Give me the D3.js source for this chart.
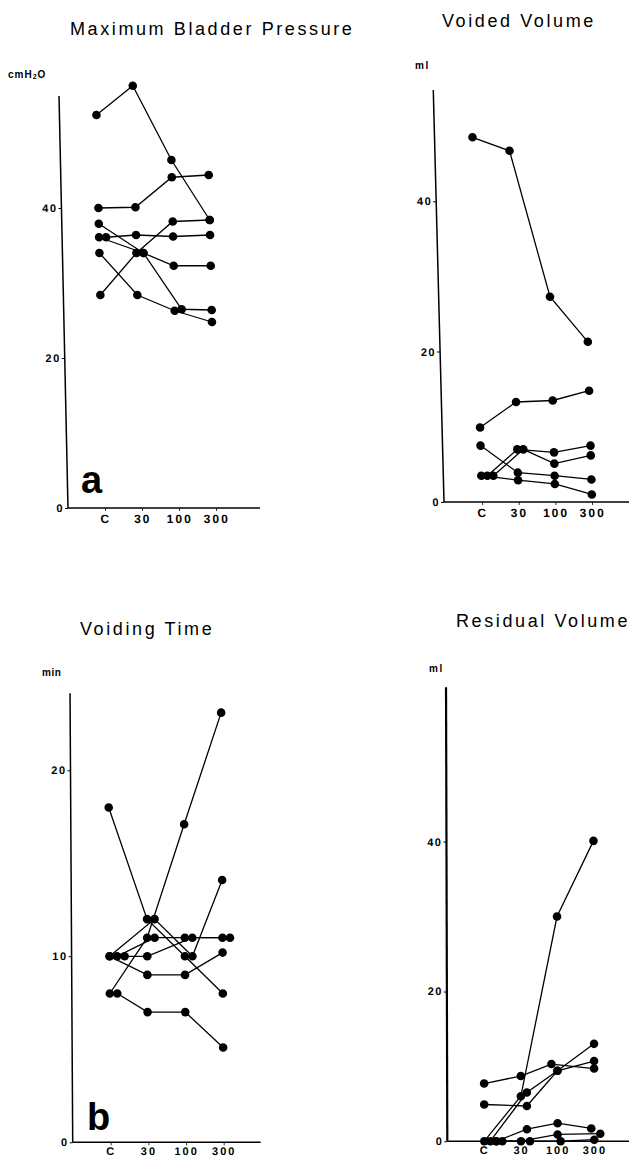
<!DOCTYPE html>
<html><head><meta charset="utf-8">
<script src="https://cdn.jsdelivr.net/npm/d3@7"></script>
<style>
body{margin:0;background:#fff;}
svg{display:block;font-family:"Liberation Sans",Arial,sans-serif;}
</style></head><body>
<svg id="c" width="629" height="1161"></svg>
<script>
const categories = ["C","30","100","300"];

// a: Maximum Bladder Pressure (cmH2O)
const pressureSeries = [
  [52.4,56.3,46.4,38.4],
  [40.0,40.1,44.1,44.4],
  [37.9,34.0,32.3,32.3],
  [36.1,36.4,36.2,36.4],
  [28.4,34.0,38.2,38.4],
  [36.1,34.0,26.5,26.4],
  [34.0,28.4,26.3,24.8]
];
const pressureDodge = [[0,0,0,0],[0,0,0,0],[0,1,0,0],[1,0,0,0],[0,0,0,0],[0,1,1,0],[0,0,0,0]];
const pressureTicks = [0,20,40];

// Voided Volume (ml)
const voidedSeries = [
  [48.5,46.7,27.3,21.3],
  [9.9,13.3,13.5,14.8],
  [7.5,3.9,3.5,3.0],
  [3.5,7.0,6.6,7.5],
  [3.5,7.0,5.1,6.2],
  [3.5,2.9,2.4,1.0]
];
const voidedDodge = [[0,0,0,0],[0,0,0,0],[0,0,0,0],[1,0,0,0],[2,1,0,0],[0,0,0,0]];
const voidedTicks = [0,20,40];

// b: Voiding Time (min)
const timeSeries = [
  [18,12,10,8],
  [10,12,10,14.1],
  [8,11,17.1,23.1],
  [10,11,11,11],
  [10,10,11,11],
  [10,9,9,10.2],
  [8,7,7,5.1]
];
const timeDodge = [[0,0,0,0],[0,1,1,0],[0,0,0,0],[1,1,0,0],[2,0,1,1],[0,0,0,0],[1,0,0,0]];
const timeTicks = [0,10,20];

// Residual Volume (ml)
const residualSeries = [
  [0,6.0,30.0,40.1],
  [7.7,8.7,10.3,9.7],
  [4.9,4.7,9.4,10.7],
  [0,6.5,9.4,13.0],
  [0,1.6,2.4,1.7],
  [0,0,0.9,1.0],
  [0,0,0,0.2]
];
const residualDodge = [[0,0,0,0],[0,0,-1,0],[0,1,0,0],[1,1,0,0],[2,1,0,-0.5],[3,0,0,1],[2,1.5,0.5,0]];
const residualTicks = [0,20,40];

const svg = d3.select("#c");

function panel(cfg){
  const g = svg.append("g")
    .attr("transform", `translate(${cfg.origin[0]},${cfg.origin[1]}) skewX(${cfg.skew})`);
  const y = d3.scaleLinear().domain([0, cfg.axisH / cfg.pxPerUnit]).range([0, -cfg.axisH]);
  const x = d3.scalePoint().domain(categories).range(cfg.xRange);

  g.append("line").attr("x1",0).attr("x2",0).attr("y1",0).attr("y2",-cfg.axisH)
    .attr("stroke","#000").attr("stroke-width",cfg.axisW || 1.5);
  g.append("line").attr("x1",0).attr("x2",cfg.axisLen).attr("y1",0).attr("y2",0)
    .attr("stroke","#000").attr("stroke-width",1.5);

  const ya = g.append("g").call(d3.axisLeft(y).tickValues(cfg.ticks).tickSize(3).tickPadding(1).tickFormat(d3.format("d")));
  ya.select(".domain").remove();
  ya.selectAll("text").attr("font-size",11).attr("font-weight","bold").attr("letter-spacing","1.5px")
    .attr("font-family","Liberation Sans, Arial, sans-serif").attr("fill","#000");
  ya.selectAll("line").attr("stroke","#000");

  const xa = g.append("g").call(d3.axisBottom(x).tickSize(3).tickPadding(cfg.xPad));
  xa.select(".domain").remove();
  xa.selectAll("text").attr("font-size",cfg.xFont || 12).attr("font-weight","bold").attr("letter-spacing","2px")
    .attr("font-family","Liberation Sans, Arial, sans-serif").attr("fill","#000");
  xa.selectAll("line").attr("stroke","#000").attr("stroke-width",0.8);

  const px = (i,k) => x(categories[k]) + cfg.dodge[i][k] * cfg.unit;
  const line = d3.line().x(d => d[0]).y(d => d[1]);
  cfg.series.forEach((s,i) => {
    const pts = s.map((v,k) => [px(i,k), y(v)]);
    g.append("path").attr("d", line(pts)).attr("fill","none")
      .attr("stroke","#000").attr("stroke-width",1.3);
  });
  cfg.series.forEach((s,i) => {
    s.forEach((v,k) => {
      g.append("circle").attr("cx", px(i,k)).attr("cy", y(v)).attr("r", 4.3).attr("fill","#000");
    });
  });
}

panel({origin:[68,508], skew:1.25, pxPerUnit:7.5, axisH:412, axisLen:192, xRange:[37,148], xPad:3,
  ticks:pressureTicks, series:pressureSeries, dodge:pressureDodge, unit:7});
panel({origin:[444,502], skew:1.49, pxPerUnit:7.52, axisH:412, axisLen:190, xRange:[38,148], xPad:3,
  ticks:voidedTicks, series:voidedSeries, dodge:voidedDodge, unit:6});
panel({origin:[72.7,1142.3], skew:0.34, pxPerUnit:18.6, axisH:449, axisLen:188, xRange:[38,151], xPad:2,
  ticks:timeTicks, series:timeSeries, dodge:timeDodge, unit:7.5, xFont:11});
panel({origin:[447.3,1141.2], skew:0.16, pxPerUnit:7.49, axisH:454, axisLen:185, xRange:[37,147], xPad:2,
  ticks:residualTicks, series:residualSeries, dodge:residualDodge, unit:6, axisW:2.2, xFont:11});

const titles = [
  {t:"Maximum Bladder Pressure", x:70, y:35},
  {t:"Voided Volume", x:442, y:27},
  {t:"Voiding Time", x:80, y:635},
  {t:"Residual Volume", x:456, y:627}
];
titles.forEach(d => svg.append("text").attr("x",d.x).attr("y",d.y).attr("font-size",18)
  .attr("letter-spacing","2.6px").attr("fill","#000").text(d.t));

const u = svg.append("text").attr("x",8).attr("y",78).attr("font-size",10).attr("font-weight","bold").attr("letter-spacing","1px");
u.append("tspan").text("cmH");
u.append("tspan").attr("font-size",7).attr("dy",1).text("2");
u.append("tspan").attr("dy",-1).text("O");
svg.append("text").attr("x",415).attr("y",69).attr("font-size",10).attr("font-weight","bold").attr("letter-spacing","1.5px").text("ml");
svg.append("text").attr("x",42).attr("y",676).attr("font-size",10).attr("font-weight","bold").attr("letter-spacing","0.5px").text("min");
svg.append("text").attr("x",429).attr("y",672).attr("font-size",10).attr("font-weight","bold").attr("letter-spacing","1.5px").text("ml");

svg.append("text").attr("x",81).attr("y",493).attr("font-size",38).attr("font-weight","bold").text("a");
svg.append("text").attr("x",87).attr("y",1130).attr("font-size",38).attr("font-weight","bold").text("b");
</script>
</body></html>
